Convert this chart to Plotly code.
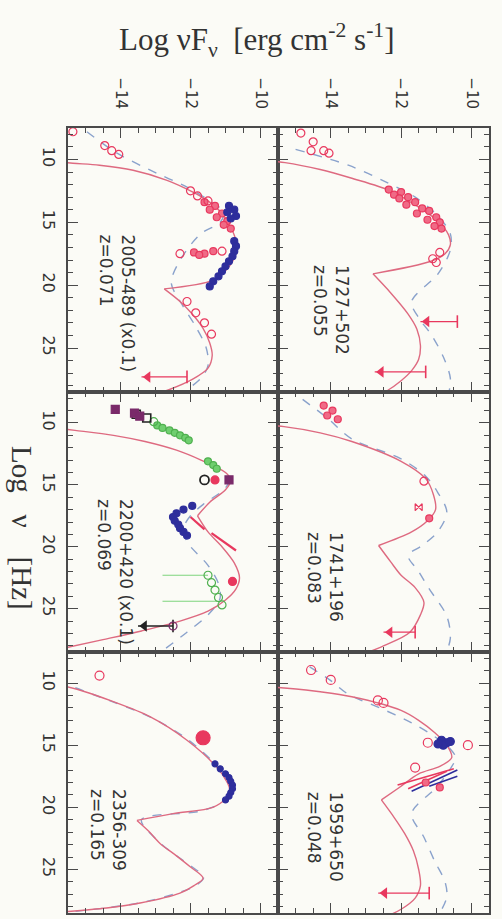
import plotly.graph_objects as go
from plotly.subplots import make_subplots

# ---------------- axes ----------------
LOGNU_RANGE = [28.5, 7.5]        # log nu runs down the page
LOGNUF_RANGE = [-15.5, -9.5]     # log nuF_nu runs across the page
NUF_TICK_VALS = [-14, -12, -10]
NUF_TICK_TEXT = ["\u221214", "\u221212", "\u221210"]
NU_TICK_VALS = [10, 15, 20, 25]
NU_TICK_TEXT = ["10", "15", "20", "25"]

# ---------------- 1727+502, z=0.055 ----------------
S1727_SYN_NU = [10.0, 10.25, 10.8, 11.5, 12.5, 13.8, 14.9, 16.0, 16.8, 17.5, 18.1, 19.1]
S1727_SYN_F = [-16.2, -15.3, -14.3, -13.4, -12.3, -11.5, -10.96, -10.65, -10.6, -10.75, -11.15, -12.8]
S1727_IC_NU = [19.1, 20.6, 22.3, 23.5, 24.8, 25.9, 26.8, 27.6, 28.4, 29.2]
S1727_IC_F = [-12.8, -12.3, -11.8, -11.55, -11.45, -11.5, -11.7, -12.0, -12.4, -13.0]
S1727_ALT_NU = [9.2, 10.46, 11.7, 13.0, 14.5, 15.9, 17.2, 19.1, 21.3, 22.6, 23.9, 25.7, 27.4, 28.7]
S1727_ALT_F = [-15.0, -13.5, -12.5, -11.6, -10.95, -10.6, -10.6, -10.95, -11.7, -11.5, -11.15, -10.8, -10.6, -10.65]
S1727_OPEN_NU = [7.9, 8.6, 9.3, 9.5, 9.3, 17.4, 17.9, 18.2]
S1727_OPEN_F = [-14.85, -14.5, -14.2, -14.05, -14.56, -10.9, -11.1, -11.0]
S1727_FILL_NU = [12.4, 12.6, 12.8, 13.0, 13.1, 13.4, 13.6, 13.9, 14.1, 14.3, 14.6, 14.8, 15.0, 15.3, 15.5]
S1727_FILL_F = [-12.35, -12.0, -12.2, -11.8, -12.05, -11.6, -11.85, -11.4, -11.2, -11.55, -11.0, -11.25, -10.9, -11.05, -10.85]
S1727_UL_NU = [22.9, 26.9]
S1727_UL_CAP = [-10.4, -11.3]
S1727_UL_TIP = [-11.45, -12.75]

# ---------------- 1741+196, z=0.083 ----------------
S1741_SYN_NU = [10.1, 10.3, 10.8, 11.5, 13.1, 14.5, 15.8, 17.0, 17.9, 18.8, 19.9]
S1741_SYN_F = [-16.2, -15.33, -14.3, -13.4, -12.0, -11.3, -11.08, -11.02, -11.25, -11.7, -12.64]
S1741_IC_NU = [19.9, 21.2, 22.3, 23.3, 24.5, 25.5, 26.9, 28.0, 28.8]
S1741_IC_F = [-12.64, -12.3, -12.0, -11.6, -11.35, -11.45, -11.75, -12.5, -13.2]
S1741_ALT_NU = [8.1, 9.6, 11.3, 12.9, 14.3, 15.6, 17.2, 18.8, 19.9, 20.7, 22.0, 23.4, 25.6, 27.4, 28.8]
S1741_ALT_F = [-14.8, -14.1, -13.4, -12.0, -11.3, -10.96, -10.7, -10.96, -11.4, -11.8, -11.5, -11.2, -10.7, -10.6, -10.75]
S1741_OPEN_NU = [14.7]
S1741_OPEN_F = [-11.35]
S1741_FILL_NU = [8.6, 9.0, 9.4, 9.7, 17.7]
S1741_FILL_F = [-14.2, -13.95, -14.1, -13.8, -11.2]
S1741_XBOW_NU = [16.8]
S1741_XBOW_F = [-11.5]
S1741_UL_NU = [26.9]
S1741_UL_CAP = [-11.6]
S1741_UL_TIP = [-12.5]

# ---------------- 1959+650, z=0.048 ----------------
S1959_SYN_NU = [10.2, 10.4, 10.7, 11.1, 12.2, 13.0, 14.0, 15.0, 16.0, 16.7, 17.3, 18.4, 19.4]
S1959_SYN_F = [-16.2, -15.33, -14.3, -13.4, -12.0, -11.5, -11.04, -10.7, -10.56, -10.9, -11.5, -12.05, -12.56]
S1959_IC_NU = [19.4, 20.8, 22.1, 23.5, 25.0, 26.3, 27.3, 28.2, 29.0]
S1959_IC_F = [-12.56, -12.2, -11.9, -11.65, -11.5, -11.45, -11.6, -12.0, -12.6]
S1959_ALT_NU = [8.7, 9.8, 10.9, 12.0, 13.2, 14.3, 15.3, 16.0, 16.9, 18.4, 20.5, 22.4, 24.3, 26.0, 27.2, 28.5]
S1959_ALT_F = [-14.6, -14.0, -13.5, -12.6, -11.7, -11.05, -10.6, -10.45, -10.6, -11.0, -11.7, -11.35, -11.05, -10.75, -10.7, -10.9]
S1959_OPEN_NU = [8.95, 9.75, 11.4, 11.6, 16.8, 14.8, 15.0]
S1959_OPEN_F = [-14.56, -14.0, -12.66, -12.5, -11.6, -11.24, -10.1]
S1959_FILL_NU = [18.0, 18.4]
S1959_FILL_F = [-11.3, -10.9]
S1959_BLUE_NU = [14.6, 14.8, 15.0, 14.7, 14.9]
S1959_BLUE_F = [-10.85, -10.7, -10.8, -10.6, -10.95]
S1959_XRED_NU = [[16.9, 18.2], [17.1, 18.5]]
S1959_XRED_F = [[-10.5, -12.1], [-10.7, -11.8]]
S1959_XBLUE_NU = [[17.0, 18.7], [17.5, 18.3]]
S1959_XBLUE_F = [[-10.4, -11.7], [-10.4, -11.2]]
S1959_UL_NU = [26.9]
S1959_UL_CAP = [-11.2]
S1959_UL_TIP = [-12.65]

# ---------------- 2005-489 (x0.1), z=0.071 ----------------
S2005_SYN_NU = [10.1, 10.3, 10.46, 10.86, 11.66, 12.6, 13.3, 14.3, 15.4, 16.5, 17.6, 18.7, 19.6, 20.3]
S2005_SYN_F = [-16.2, -15.36, -14.6, -13.64, -12.67, -11.93, -11.5, -11.1, -10.85, -10.7, -10.72, -10.95, -11.35, -12.75]
S2005_IC_NU = [20.3, 21.3, 22.3, 23.4, 24.6, 25.6, 26.6, 27.5, 28.3, 29.0]
S2005_IC_F = [-12.75, -12.3, -11.95, -11.65, -11.45, -11.38, -11.5, -11.95, -12.6, -13.4]
S2005_ALT_NU = [7.8, 9.5, 11.1, 12.2, 13.3, 14.2, 15.0, 15.9, 17.8, 19.8, 21.5, 23.3, 25.0, 26.4, 27.4, 28.7]
S2005_ALT_F = [-14.96, -14.1, -12.96, -12.1, -11.45, -11.05, -11.15, -11.7, -12.25, -12.55, -12.25, -11.85, -11.55, -11.5, -11.7, -12.3]
S2005_OPEN_NU = [7.8, 8.9, 9.3, 9.6, 12.5, 12.9, 13.3, 17.5, 17.3, 21.3, 22.2, 23.0, 23.9]
S2005_OPEN_F = [-15.36, -14.45, -14.25, -14.05, -12.0, -11.8, -11.5, -12.3, -11.1, -12.1, -11.85, -11.6, -11.4]
S2005_FILL_NU = [13.4, 13.7, 14.0, 14.3, 14.6, 14.9, 15.2, 15.5, 17.4, 17.5, 17.3, 17.6]
S2005_FILL_F = [-11.6, -11.3, -11.45, -11.1, -11.25, -10.95, -11.05, -10.85, -11.9, -11.6, -11.35, -11.75]
S2005_BLUE_NU = [13.7, 14.0, 14.2, 14.5, 14.7, 16.5, 16.9, 17.3, 17.7, 18.1, 18.5, 18.9, 19.3, 19.7, 20.1]
S2005_BLUE_F = [-10.9, -10.75, -10.95, -10.7, -10.85, -10.75, -10.7, -10.75, -10.8, -10.9, -11.0, -11.1, -11.2, -11.35, -11.45]
S2005_UL_NU = [27.3]
S2005_UL_CAP = [-12.1]
S2005_UL_TIP = [-13.4]

# ---------------- 2200+420 (x0.1), z=0.069 ----------------
S2200_SYN_NU = [10.3, 10.6, 11.0, 11.5, 12.2, 13.0, 14.0, 14.6, 15.4, 16.4, 17.5]
S2200_SYN_F = [-16.2, -15.3, -14.2, -13.3, -12.4, -11.7, -11.0, -10.85, -11.0, -11.45, -11.8]
S2200_IC_NU = [17.5, 18.8, 20.0, 21.3, 22.5, 23.4, 24.3, 25.2, 26.0, 26.8, 27.5, 28.3]
S2200_IC_F = [-11.8, -11.5, -11.1, -10.75, -10.6, -10.7, -11.0, -11.5, -12.3, -13.4, -14.5, -15.8]
S2200_ALT_NU = [14.6, 15.4, 16.5, 17.5, 18.5, 19.6, 21.5, 23.0, 24.2, 25.5, 26.9, 28.4]
S2200_ALT_F = [-10.85, -11.05, -11.6, -12.0, -12.2, -12.1, -11.5, -11.2, -11.16, -11.5, -12.1, -12.8]
S2200_PURPLE_NU = [8.9, 9.2, 9.45, 14.6]
S2200_PURPLE_F = [-14.15, -13.6, -13.45, -10.9]
S2200_BLACKSQ_NU = [9.3, 9.6]
S2200_BLACKSQ_F = [-13.55, -13.25]
S2200_GREEN_NU = [10.2, 10.4, 10.6, 10.8, 11.0, 11.2, 11.4, 13.1, 13.4, 13.7]
S2200_GREEN_F = [-12.95, -12.8, -12.6, -12.45, -12.3, -12.15, -12.05, -11.5, -11.35, -11.25]
S2200_GREEN_OPEN_NU = [9.9, 22.3, 22.9, 23.5, 24.1, 24.7]
S2200_GREEN_OPEN_F = [-13.05, -11.5, -11.4, -11.3, -11.2, -11.1]
S2200_GREEN_ERR_NU = [22.3, 24.4]
S2200_GREEN_ERR_LO = [-12.8, -12.8]
S2200_GREEN_ERR_HI = [-11.5, -11.2]
S2200_BLACK_OPEN_NU = [14.6]
S2200_BLACK_OPEN_F = [-11.6]
S2200_FILL_NU = [14.6, 22.8]
S2200_FILL_F = [-11.3, -10.8]
S2200_BLUE_NU = [16.7, 17.0, 17.3, 17.6, 17.9, 18.2, 18.5, 18.8, 19.1]
S2200_BLUE_F = [-11.95, -12.2, -12.4, -12.5, -12.45, -12.35, -12.3, -12.2, -12.1]
S2200_XRED_NU = [[17.6, 18.6], [18.9, 20.3]]
S2200_XRED_F = [[-12.0, -11.6], [-11.4, -10.7]]
S2200_PURPLE_OPEN_NU = [26.4]
S2200_PURPLE_OPEN_F = [-12.5]
S2200_UL_NU = [26.4]
S2200_UL_CAP = [-12.5]
S2200_UL_TIP = [-13.5]

# ---------------- 2356-309, z=0.165 ----------------
S2356_SYN_NU = [10.0, 10.3, 10.8, 11.4, 12.7, 14.6, 16.8, 18.0, 18.6, 19.3, 20.0, 20.5, 21.05]
S2356_SYN_F = [-16.3, -15.53, -14.9, -14.3, -13.16, -12.1, -11.24, -10.95, -10.88, -11.0, -11.36, -12.5, -13.53]
S2356_IC_NU = [21.05, 21.9, 22.9, 23.9, 24.8, 25.7, 26.3, 26.9, 27.7, 28.1, 28.4]
S2356_IC_F = [-13.53, -13.2, -12.87, -12.4, -12.0, -11.64, -11.9, -12.3, -13.44, -14.4, -15.6]
S2356_ALT_NU = [9.9, 10.2, 10.9, 12.8, 14.6, 16.8, 18.1, 18.8, 19.6, 20.3, 21.0, 22.9, 24.8, 25.6, 26.3, 27.6, 28.4]
S2356_ALT_F = [-16.3, -15.5, -14.8, -13.1, -12.05, -11.2, -10.9, -10.85, -11.1, -11.7, -13.4, -12.85, -11.95, -11.62, -11.85, -13.3, -15.4]
S2356_OPEN_NU = [9.4]
S2356_OPEN_F = [-14.6]
S2356_BIG_NU = [14.4]
S2356_BIG_F = [-11.64]
S2356_BLUE_NU = [16.5, 16.9, 17.3, 17.6, 17.9, 18.2, 18.5, 18.8, 19.1, 19.4]
S2356_BLUE_F = [-11.3, -11.15, -11.0, -10.9, -10.85, -10.8, -10.8, -10.85, -10.9, -11.0]

# ---------------- styling ----------------
PAPER = "#fbfbf6"
AXIS = "#4a4a4a"
MODEL_RED = "#de6a80"
MODEL_BLUE = "#8aa2cc"
DATA_RED = "#e8385e"
DATA_RED_FILL = "#f06a86"
DATA_BLUE = "#2e2e9c"
DATA_GREEN = "#6fcf6f"
DATA_PURPLE = "#7a2a6a"
DATA_BLACK = "#222222"

fig = make_subplots(rows=3, cols=2, horizontal_spacing=0, vertical_spacing=0)


def curve(r, c, nu, f, color, dash="solid", width=1.4):
    fig.add_trace(go.Scatter(x=f, y=nu, mode="lines",
                             line=dict(color=color, dash=dash, width=width,
                                       shape="spline", smoothing=0.9),
                             hoverinfo="skip", showlegend=False), row=r, col=c)


def points(r, c, nu, f, symbol, color, size=7, fill=None, lw=1.2):
    fig.add_trace(go.Scatter(x=f, y=nu, mode="markers",
                             marker=dict(symbol=symbol, size=size,
                                         color=fill if fill else color,
                                         line=dict(color=color, width=lw)),
                             hoverinfo="skip", showlegend=False), row=r, col=c)


def segments(r, c, nus, fs, color, width=1.6):
    for nu, f in zip(nus, fs):
        fig.add_trace(go.Scatter(x=f, y=nu, mode="lines",
                                 line=dict(color=color, width=width),
                                 hoverinfo="skip", showlegend=False), row=r, col=c)


def upper_limits(r, c, nu, cap, tip, color):
    for n, hi, lo in zip(nu, cap, tip):
        fig.add_trace(go.Scatter(x=[hi, lo], y=[n, n], mode="lines",
                                 line=dict(color=color, width=1.3),
                                 hoverinfo="skip", showlegend=False), row=r, col=c)
    fig.add_trace(go.Scatter(x=cap, y=nu, mode="markers",
                             marker=dict(symbol="line-ns", size=9,
                                         line=dict(color=color, width=1.6)),
                             hoverinfo="skip", showlegend=False), row=r, col=c)
    fig.add_trace(go.Scatter(x=[t + 0.18 for t in tip], y=nu, mode="markers",
                             marker=dict(symbol="triangle-left", size=10, color=color,
                                         line=dict(width=0)),
                             hoverinfo="skip", showlegend=False), row=r, col=c)


# 1727+502 : row 1, right column
curve(1, 2, S1727_ALT_NU, S1727_ALT_F, MODEL_BLUE, "dash")
curve(1, 2, S1727_SYN_NU, S1727_SYN_F, MODEL_RED)
curve(1, 2, S1727_IC_NU, S1727_IC_F, MODEL_RED)
points(1, 2, S1727_FILL_NU, S1727_FILL_F, "circle", DATA_RED, 7, DATA_RED_FILL)
points(1, 2, S1727_OPEN_NU, S1727_OPEN_F, "circle-open", DATA_RED, 8)
upper_limits(1, 2, S1727_UL_NU, S1727_UL_CAP, S1727_UL_TIP, DATA_RED)

# 1741+196 : row 2, right column
curve(2, 2, S1741_ALT_NU, S1741_ALT_F, MODEL_BLUE, "dash")
curve(2, 2, S1741_SYN_NU, S1741_SYN_F, MODEL_RED)
curve(2, 2, S1741_IC_NU, S1741_IC_F, MODEL_RED)
points(2, 2, S1741_FILL_NU, S1741_FILL_F, "circle", DATA_RED, 7, DATA_RED_FILL)
points(2, 2, S1741_OPEN_NU, S1741_OPEN_F, "circle-open", DATA_RED, 8)
points(2, 2, S1741_XBOW_NU, S1741_XBOW_F, "bowtie-open", DATA_RED, 7)
upper_limits(2, 2, S1741_UL_NU, S1741_UL_CAP, S1741_UL_TIP, DATA_RED)

# 1959+650 : row 3, right column
curve(3, 2, S1959_ALT_NU, S1959_ALT_F, MODEL_BLUE, "dash")
curve(3, 2, S1959_SYN_NU, S1959_SYN_F, MODEL_RED)
curve(3, 2, S1959_IC_NU, S1959_IC_F, MODEL_RED)
segments(3, 2, S1959_XRED_NU, S1959_XRED_F, DATA_RED)
segments(3, 2, S1959_XBLUE_NU, S1959_XBLUE_F, DATA_BLUE)
points(3, 2, S1959_OPEN_NU, S1959_OPEN_F, "circle-open", DATA_RED, 9)
points(3, 2, S1959_FILL_NU, S1959_FILL_F, "circle", DATA_RED, 7, DATA_RED_FILL)
points(3, 2, S1959_BLUE_NU, S1959_BLUE_F, "circle", DATA_BLUE, 8)
upper_limits(3, 2, S1959_UL_NU, S1959_UL_CAP, S1959_UL_TIP, DATA_RED)

# 2005-489 : row 1, left column
curve(1, 1, S2005_ALT_NU, S2005_ALT_F, MODEL_BLUE, "dash")
curve(1, 1, S2005_SYN_NU, S2005_SYN_F, MODEL_RED)
curve(1, 1, S2005_IC_NU, S2005_IC_F, MODEL_RED)
points(1, 1, S2005_FILL_NU, S2005_FILL_F, "circle", DATA_RED, 7, DATA_RED_FILL)
points(1, 1, S2005_BLUE_NU, S2005_BLUE_F, "circle", DATA_BLUE, 7)
points(1, 1, S2005_OPEN_NU, S2005_OPEN_F, "circle-open", DATA_RED, 8)
upper_limits(1, 1, S2005_UL_NU, S2005_UL_CAP, S2005_UL_TIP, DATA_RED)

# 2200+420 : row 2, left column
curve(2, 1, S2200_ALT_NU, S2200_ALT_F, MODEL_BLUE, "dash")
curve(2, 1, S2200_SYN_NU, S2200_SYN_F, MODEL_RED)
curve(2, 1, S2200_IC_NU, S2200_IC_F, MODEL_RED)
for n, lo, hi in zip(S2200_GREEN_ERR_NU, S2200_GREEN_ERR_LO, S2200_GREEN_ERR_HI):
    fig.add_trace(go.Scatter(x=[lo, hi], y=[n, n], mode="lines",
                             line=dict(color=DATA_GREEN, width=0.9),
                             hoverinfo="skip", showlegend=False), row=2, col=1)
segments(2, 1, S2200_XRED_NU, S2200_XRED_F, DATA_RED, 2.2)
points(2, 1, S2200_GREEN_NU, S2200_GREEN_F, "circle", "#4fb04f", 7, DATA_GREEN)
points(2, 1, S2200_GREEN_OPEN_NU, S2200_GREEN_OPEN_F, "circle-open", "#4fb04f", 8)
points(2, 1, S2200_BLACKSQ_NU, S2200_BLACKSQ_F, "square-open", DATA_BLACK, 8, None, 1.6)
points(2, 1, S2200_PURPLE_NU, S2200_PURPLE_F, "square", DATA_PURPLE, 8)
points(2, 1, S2200_BLACK_OPEN_NU, S2200_BLACK_OPEN_F, "circle-open", DATA_BLACK, 9, None, 1.8)
points(2, 1, S2200_FILL_NU, S2200_FILL_F, "circle", DATA_RED, 8, DATA_RED)
points(2, 1, S2200_BLUE_NU, S2200_BLUE_F, "circle", DATA_BLUE, 7)
upper_limits(2, 1, S2200_UL_NU, S2200_UL_CAP, S2200_UL_TIP, DATA_BLACK)
points(2, 1, S2200_PURPLE_OPEN_NU, S2200_PURPLE_OPEN_F, "circle-open", DATA_PURPLE, 8)

# 2356-309 : row 3, left column
curve(3, 1, S2356_ALT_NU, S2356_ALT_F, MODEL_BLUE, "dash")
curve(3, 1, S2356_SYN_NU, S2356_SYN_F, MODEL_RED)
curve(3, 1, S2356_IC_NU, S2356_IC_F, MODEL_RED)
points(3, 1, S2356_OPEN_NU, S2356_OPEN_F, "circle-open", DATA_RED, 9)
points(3, 1, S2356_BIG_NU, S2356_BIG_F, "circle", DATA_RED, 14, DATA_RED)
points(3, 1, S2356_BLUE_NU, S2356_BLUE_F, "circle", DATA_BLUE, 6)

# ---------------- panel geometry ----------------
W, H = 502, 919
X_EDGES = [68, 278, 489]
Y_EDGES = [128, 392, 652, 913]

tick_font_nu = dict(family="DejaVu Sans", size=16, color="#333333")
tick_font_nuf = dict(family="DejaVu Sans", size=15, color="#333333")

for r in range(1, 4):
    for c in range(1, 3):
        xd = [X_EDGES[c - 1] / W, X_EDGES[c] / W]
        yd = [1 - Y_EDGES[r] / H, 1 - Y_EDGES[r - 1] / H]
        fig.update_xaxes(row=r, col=c, domain=xd, range=LOGNUF_RANGE,
                         tickmode="array", tickvals=NUF_TICK_VALS, ticktext=NUF_TICK_TEXT,
                         ticks="inside", ticklen=10, tickwidth=1.3, tickcolor=AXIS,
                         minor=dict(tickmode="linear", tick0=0, dtick=0.5, ticks="inside",
                                    ticklen=5, tickwidth=1.1, tickcolor=AXIS),
                         showline=True, linecolor=AXIS, linewidth=1.5, mirror="allticks",
                         showgrid=False, zeroline=False,
                         side="top", showticklabels=(r == 1), tickangle=90,
                         ticklabelstandoff=12, tickfont=tick_font_nuf)
        fig.update_yaxes(row=r, col=c, domain=yd, range=LOGNU_RANGE,
                         tickmode="array", tickvals=NU_TICK_VALS, ticktext=NU_TICK_TEXT,
                         ticks="inside", ticklen=10, tickwidth=1.3, tickcolor=AXIS,
                         minor=dict(tickmode="linear", tick0=0, dtick=1, ticks="inside",
                                    ticklen=5, tickwidth=1.1, tickcolor=AXIS),
                         showline=True, linecolor=AXIS, linewidth=1.5, mirror="allticks",
                         showgrid=False, zeroline=False,
                         showticklabels=(c == 1), tickangle=90,
                         ticklabelstandoff=4, tickfont=tick_font_nu)

# ---------------- source labels (text starts at the given log nu) ----------------
label_font = dict(family="DejaVu Sans", size=17, color="#333333")
labels = [
    (1, 2, -13.99, 18.24, "1727+502<br>z=0.055"),
    (2, 2, -14.16, 18.65, "1741+196<br>z=0.083"),
    (3, 2, -14.16, 18.6, "1959+650<br>z=0.048"),
    (1, 1, -14.09, 15.85, "2005-489 (x0.1)<br>z=0.071"),
    (2, 1, -14.16, 15.98, "2200+420 (x0.1)<br>z=0.069"),
    (3, 1, -14.36, 18.36, "2356-309<br>z=0.165"),
]
axis_ids = {(1, 1): "", (1, 2): "2", (2, 1): "3", (2, 2): "4", (3, 1): "5", (3, 2): "6"}
for r, c, fx, ny, txt in labels:
    k = axis_ids[(r, c)]
    fig.add_annotation(x=fx, y=ny, xref="x" + k, yref="y" + k, text=txt,
                       showarrow=False, textangle=90, align="left",
                       xanchor="center", yanchor="top", font=label_font)

# ---------------- axis titles ----------------
fig.add_annotation(x=257 / W, y=1 - 40 / H, xref="paper", yref="paper",
                   text="Log \u03bdF<sub>\u03bd</sub>  [erg cm<sup>-2</sup> s<sup>-1</sup>]",
                   showarrow=False, xanchor="center", yanchor="middle",
                   font=dict(family="Liberation Serif", size=31, color="#333333"))
fig.add_annotation(x=22 / W, y=1 - 528 / H, xref="paper", yref="paper",
                   text="Log\u00a0\u00a0\u00a0\u03bd\u00a0\u00a0\u00a0\u00a0[Hz]", showarrow=False,
                   textangle=90, xanchor="center", yanchor="middle",
                   font=dict(family="Liberation Serif", size=29, color="#333333"))

fig.update_layout(width=W, height=H, margin=dict(l=0, r=0, t=0, b=0),
                  paper_bgcolor=PAPER, plot_bgcolor=PAPER, showlegend=False)

fig.write_html("out.html")
